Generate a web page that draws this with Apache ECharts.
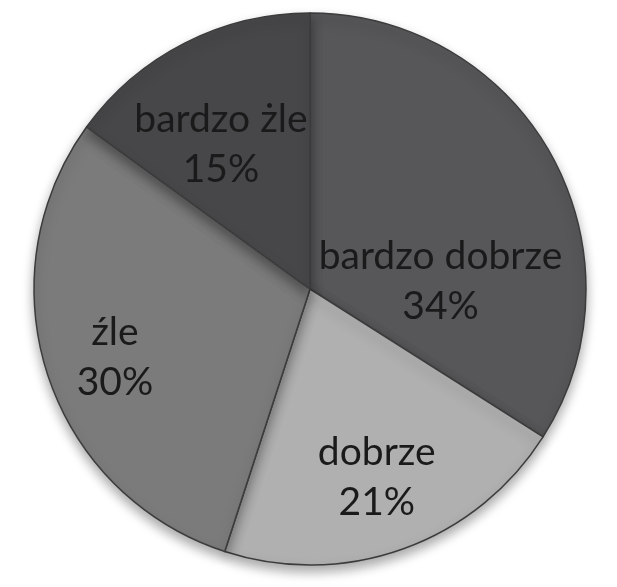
<!DOCTYPE html>
<html>
<head>
<meta charset="utf-8">
<script src="https://cdn.jsdelivr.net/npm/echarts@6/dist/echarts.min.js"></script>
<style>
html,body{margin:0;padding:0;background:#fff;}
#chart{width:617px;height:587px;}
</style>
</head>
<body>
<div id="chart"></div>
<script>
var categories = ['bardzo dobrze', 'dobrze', 'źle', 'bardzo żle'];
var values = [34, 21, 30, 15];
var sliceColors = ['#57575a', '#b0b0b0', '#7b7b7c', '#47474a'];
var labelShift = [[7, 60], [19, 56], [-61, 25], [-25, -19]];

var data = categories.map(function (name, i) {
  return { name: name, value: values[i], itemStyle: { color: sliceColors[i] } };
});

var chart = echarts.init(document.getElementById('chart'), null, { renderer: 'canvas' });
chart.setOption({
  animation: false,
  series: [{
    type: 'pie',
    center: [310, 289],
    radius: [0, 276],
    startAngle: 90,
    clockwise: true,
    data: data,
    itemStyle: {
      borderColor: '#3c3c3c',
      borderWidth: 1.5,
      shadowBlur: 12,
      shadowOffsetY: 6,
      shadowColor: 'rgba(0,0,0,0.35)'
    },
    label: {
      show: true,
      position: 'inside',
      formatter: '{b}\n{c}%',
      fontFamily: 'Lato',
      fontSize: 39,
      lineHeight: 50,
      color: '#1a1a1a',
      align: 'center'
    },
    labelLayout: function (params) {
      var s = labelShift[params.dataIndex];
      return { dx: s[0], dy: s[1] };
    },
    labelLine: { show: false },
    emphasis: { disabled: true }
  }]
});
</script>
</body>
</html>
